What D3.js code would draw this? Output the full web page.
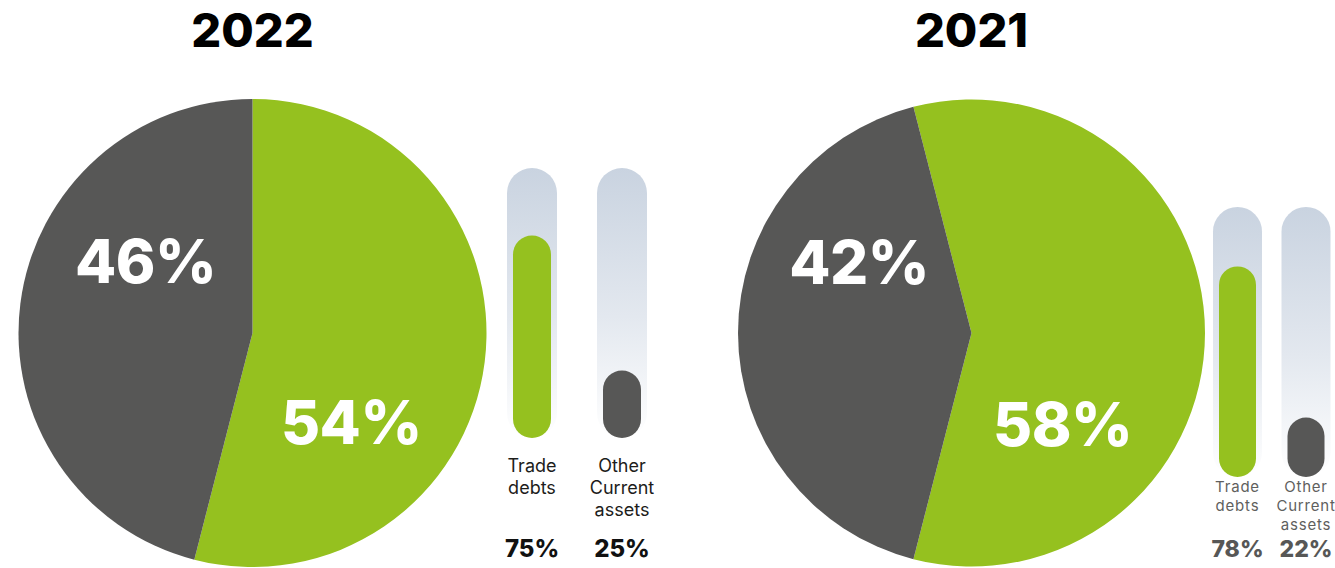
<!DOCTYPE html>
<html>
<head>
<meta charset="utf-8">
<script src="https://cdn.jsdelivr.net/npm/d3@7"></script>
<style>
  html, body { margin: 0; padding: 0; background: #ffffff; }
  svg { display: block; }
</style>
</head>
<body>
<svg id="chart" width="1335" height="568"></svg>
<script>
// Share of current assets, by year
const years = ["2022", "2021"];
const pieCategories = ["Trade debts", "Other"];
const pieShares2022 = [54, 46];
const pieShares2021 = [58, 42];
const barCategories = ["Trade\ndebts", "Other\nCurrent\nassets"];
const barShares2022 = [75, 25];
const barShares2021 = [78, 22];

const GREEN = "#95c11f";
const DARK = "#575756";

const svg = d3.select("#chart");
const fontFamily = "Inter, 'DejaVu Sans', sans-serif";

// Track gradient: pale blue-grey fading to white
const defs = svg.append("defs");
const grad = defs.append("linearGradient")
  .attr("id", "trackGrad").attr("x1", 0).attr("y1", 0).attr("x2", 0).attr("y2", 1);
grad.append("stop").attr("offset", "0%").attr("stop-color", "#c9d3e0");
grad.append("stop").attr("offset", "55%").attr("stop-color", "#e3e8ef");
grad.append("stop").attr("offset", "100%").attr("stop-color", "#ffffff");

// Panel layout
const panels = [
  {
    year: years[0], pie: pieShares2022, bars: barShares2022,
    cx: 252.5, cy: 333, r: 234,
    rotation: 0,                        // first slice starts at 12 o'clock
    titleY: 47,
    labelAngles: [132, -56], labelDist: [133, 129],
    barX: [532, 622], trackW: 50, barW: 38, trackTop: 168, trackBottom: 438,
    catSize: 18, catColor: "#1d1d1b", catY: 472, catLine: 22, catSpacing: 0,
    valY: 557, valSize: 24, valColor: "#111111"
  },
  {
    year: years[1], pie: pieShares2021, bars: barShares2021,
    cx: 971.5, cy: 333, r: 233.5,
    rotation: null,                     // first slice centred on 3 o'clock
    titleY: 47,
    labelAngles: [135, -57.6], labelDist: [129, 133],
    barX: [1237.5, 1306], trackW: 49, barW: 37, trackTop: 207, trackBottom: 477,
    catSize: 15, catColor: "#5f5f5e", catY: 492, catLine: 19, catSpacing: 0.8,
    valY: 557, valSize: 23, valColor: "#575756"
  }
];

panels.forEach(p => {
  const g = svg.append("g");
  const total = d3.sum(p.pie);
  const start = p.rotation !== null ? p.rotation
    : Math.PI / 2 - (p.pie[0] / total) * Math.PI;

  const pie = d3.pie().sort(null).value(d => d)
    .startAngle(start).endAngle(start + 2 * Math.PI);
  const arc = d3.arc().innerRadius(0).outerRadius(p.r);
  const arcs = pie(p.pie);

  const pg = g.append("g").attr("transform", `translate(${p.cx},${p.cy})`);
  pg.selectAll("path").data(arcs).join("path")
    .attr("d", arc)
    .attr("fill", (d, i) => i === 0 ? GREEN : DARK);

  // Slice percentages
  pg.selectAll("text.pct").data(arcs).join("text")
    .attr("class", "pct")
    .attr("x", (d, i) => p.labelDist[i] * Math.sin(p.labelAngles[i] * Math.PI / 180))
    .attr("y", (d, i) => -p.labelDist[i] * Math.cos(p.labelAngles[i] * Math.PI / 180) + 22)
    .attr("text-anchor", "middle")
    .attr("font-family", fontFamily)
    .attr("font-weight", 800)
    .attr("font-size", 60)
    .attr("letter-spacing", -0.5)
    .attr("fill", "#ffffff")
    .text(d => d.data + "%");

  // Year title
  g.append("text")
    .attr("x", p.cx).attr("y", p.titleY)
    .attr("text-anchor", "middle")
    .attr("font-family", fontFamily)
    .attr("font-weight", 800)
    .attr("font-size", 47)
    .attr("fill", "#000000")
    .text(p.year);

  // Progress bars
  const y = d3.scaleLinear().domain([0, 100]).range([p.trackBottom, p.trackTop]);
  p.bars.forEach((v, i) => {
    const x = p.barX[i];
    g.append("rect")
      .attr("x", x - p.trackW / 2).attr("y", y(100))
      .attr("width", p.trackW).attr("height", y(0) - y(100))
      .attr("rx", p.trackW / 2)
      .attr("fill", "url(#trackGrad)");
    g.append("rect")
      .attr("x", x - p.barW / 2).attr("y", y(v))
      .attr("width", p.barW).attr("height", y(0) - y(v))
      .attr("rx", p.barW / 2)
      .attr("fill", i === 0 ? GREEN : DARK);

    const t = g.append("text")
      .attr("text-anchor", "middle")
      .attr("font-family", fontFamily)
      .attr("font-weight", 400)
      .attr("font-size", p.catSize)
      .attr("letter-spacing", p.catSpacing)
      .attr("fill", p.catColor);
    barCategories[i].split("\n").forEach((line, k) => {
      t.append("tspan").attr("x", x).attr("y", p.catY + k * p.catLine).text(line);
    });

    g.append("text")
      .attr("x", x).attr("y", p.valY)
      .attr("text-anchor", "middle")
      .attr("font-family", fontFamily)
      .attr("font-weight", 800)
      .attr("font-size", p.valSize)
      .attr("fill", p.valColor)
      .text(v + "%");
  });
});
</script>
</body>
</html>
